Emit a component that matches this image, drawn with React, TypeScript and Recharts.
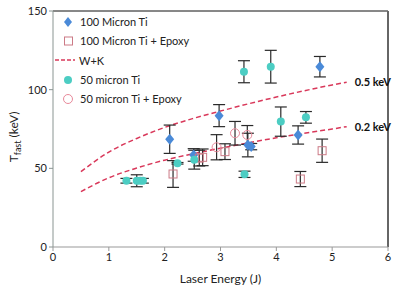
import React from 'react'
import {
  ComposedChart, XAxis, YAxis, Scatter, Line, ErrorBar, ReferenceLine,
  ReferenceDot, Label,
} from 'recharts'

// points: [energy J, T_fast keV, error keV]
const ti100 = [
  { x: 2.09, y: 68.5, err: 9 },
  { x: 2.52, y: 58.5, err: 4 },
  { x: 2.975, y: 83.5, err: 7 },
  { x: 3.49, y: 64.8, err: 7.5 },
  { x: 3.55, y: 63.8, err: 2 },
  { x: 4.39, y: 71.2, err: 5.8 },
  { x: 4.78, y: 114.6, err: 6.5 },
]

const ti100Epoxy = [
  { x: 2.15, y: 46.4, err: 8.5 },
  { x: 2.62, y: 56.5, err: 5 },
  { x: 2.68, y: 57, err: 5.3 },
  { x: 3.08, y: 60.6, err: 5 },
  { x: 4.43, y: 43.2, err: 4.8 },
  { x: 4.82, y: 61.2, err: 7.4 },
]

const ti50 = [
  { x: 1.315, y: 42.1, err: 1.5 },
  { x: 1.5, y: 42.1, err: 3.8 },
  { x: 1.56, y: 42.1, err: 1 },
  { x: 1.61, y: 42.1, err: 1.5 },
  { x: 2.23, y: 53.2, err: 0.5 },
  { x: 2.53, y: 55.5, err: 6 },
  { x: 3.42, y: 111.4, err: 7 },
  { x: 3.43, y: 46.2, err: 2 },
  { x: 3.9, y: 114.6, err: 10.4 },
  { x: 4.08, y: 79.7, err: 9.3 },
  { x: 4.53, y: 82.4, err: 3.7 },
]

const ti50Epoxy = [
  { x: 2.93, y: 63.4, err: 8 },
  { x: 3.26, y: 72.3, err: 7.5 },
  { x: 3.48, y: 71.2, err: 6 },
]

// W+K scaling curves
const wk05 = [
  { x: 0.5, y: 47.9 }, { x: 1, y: 60.3 }, { x: 1.5, y: 69 }, { x: 2, y: 76 },
  { x: 2.5, y: 81.6 }, { x: 3, y: 86.4 }, { x: 3.5, y: 91 }, { x: 4, y: 95.3 },
  { x: 4.5, y: 99.3 }, { x: 5, y: 103 }, { x: 5.26, y: 104.7 },
]
const wk02 = [
  { x: 0.5, y: 35.2 }, { x: 1, y: 44 }, { x: 1.5, y: 50.2 }, { x: 2, y: 55.2 },
  { x: 2.5, y: 59.2 }, { x: 3, y: 62.8 }, { x: 3.5, y: 66.2 }, { x: 4, y: 69.4 },
  { x: 4.5, y: 72.3 }, { x: 5, y: 75 }, { x: 5.26, y: 76.5 },
]

const xTicks = [0, 1, 2, 3, 4, 5, 6]
const yTicks = [0, 50, 100, 150]

const BLUE = '#4a8ad8'
const CYAN = '#4ccdc3'
const SQUARE = '#cc7a86'
const RING = '#e8899a'
const CURVE = '#d9385a'
const FONT = 'Lato, "Open Sans", sans-serif'

const Diamond = (p: any) => (
  <path d={`M${p.cx},${p.cy - 5.5}L${p.cx + 4.5},${p.cy}L${p.cx},${p.cy + 5.5}L${p.cx - 4.5},${p.cy}Z`} fill={BLUE} />
)
const Square = (p: any) => (
  <rect x={p.cx - 4} y={p.cy - 4} width={8} height={8} fill="none" stroke={SQUARE} strokeWidth={1} />
)
const Dot = (p: any) => <circle cx={p.cx} cy={p.cy} r={4} fill={CYAN} />
const Ring = (p: any) => <circle cx={p.cx} cy={p.cy} r={4.5} fill="none" stroke={RING} strokeWidth={1} />

const legendItems = [
  { name: '100 Micron Ti', icon: <path d="M5,1L9,6L5,11L1,6Z" fill={BLUE} /> },
  { name: '100 Micron Ti + Epoxy', icon: <rect x={1.5} y={2} width={8} height={8} fill="none" stroke={SQUARE} /> },
  { name: 'W+K', icon: <line x1={-8} y1={6} x2={12} y2={6} stroke={CURVE} strokeWidth={1.5} strokeDasharray="4 2" /> },
  { name: '50 micron Ti', icon: <circle cx={5} cy={6} r={4} fill={CYAN} /> },
  { name: '50 micron Ti + Epoxy', icon: <circle cx={5} cy={6} r={4.5} fill="none" stroke={RING} /> },
]

function LegendBox() {
  return (
    <div style={{ position: 'absolute', left: 63, top: 12, fontFamily: FONT, fontSize: 11, color: '#222' }}>
      {legendItems.map((it) => (
        <div key={it.name} style={{ display: 'flex', alignItems: 'center', height: 19.3, whiteSpace: 'nowrap' }}>
          <svg width={12} height={12} style={{ overflow: 'visible', marginRight: 5 }}>{it.icon}</svg>
          <span style={{ marginLeft: it.name === 'W+K' ? -1 : 0 }}>{it.name}</span>
        </div>
      ))}
    </div>
  )
}

export default function App() {
  return (
    <div style={{ position: 'absolute', left: 0, top: 0, width: 409, height: 292, background: '#fff' }}>
      <ComposedChart width={409} height={292} margin={{ top: 11, right: 21, bottom: 0, left: 0 }}>
        <XAxis
          type="number" dataKey="x" domain={[0, 6]} ticks={xTicks} allowDataOverflow
          height={45} stroke="#999" tickSize={4}
          tick={{ fill: '#222', fontSize: 11, fontFamily: FONT }}
        >
          <Label value="Laser Energy (J)" position="insideBottom" offset={9}
            style={{ fill: '#222', fontSize: 12, fontFamily: FONT }} />
        </XAxis>
        <YAxis
          type="number" dataKey="y" domain={[0, 150]} ticks={yTicks} allowDataOverflow
          width={53} stroke="#8a9592" tickSize={4}
          tick={{ fill: '#222', fontSize: 11, fontFamily: FONT }}
        >
          <Label content={() => (
            <text transform="translate(18,137) rotate(-90)" textAnchor="middle"
              style={{ fill: '#222', fontSize: 12, fontFamily: FONT }}>
              T<tspan fontSize={9} dy={3}>fast</tspan><tspan dy={-3}> (keV)</tspan>
            </text>
          )} />
        </YAxis>
        <ReferenceLine y={150} stroke="#111" strokeWidth={1} />
        <ReferenceLine x={6} stroke="#666" strokeWidth={2} />
        <Line data={wk05} dataKey="y" type="monotone" stroke={CURVE} strokeWidth={1.5}
          strokeDasharray="5 3" dot={false} isAnimationActive={false} legendType="none" />
        <Line data={wk02} dataKey="y" type="monotone" stroke={CURVE} strokeWidth={1.5}
          strokeDasharray="5 3" dot={false} isAnimationActive={false} legendType="none" />
        <ReferenceDot x={5.26} y={104.7} r={0} fill="none" stroke="none"
          label={{ value: '0.5 keV', position: 'right', offset: 8, fill: '#111', fontSize: 11, fontWeight: 700, fontFamily: FONT }} />
        <ReferenceDot x={5.26} y={76.5} r={0} fill="none" stroke="none"
          label={{ value: '0.2 keV', position: 'right', offset: 8, fill: '#111', fontSize: 11, fontWeight: 700, fontFamily: FONT }} />
        <Scatter data={ti100} dataKey="y" shape={Diamond} isAnimationActive={false}>
          <ErrorBar dataKey="err" direction="y" width={6} stroke="#2a2a2a" strokeWidth={1.2} />
        </Scatter>
        <Scatter data={ti100Epoxy} dataKey="y" shape={Square} isAnimationActive={false}>
          <ErrorBar dataKey="err" direction="y" width={6} stroke="#2a2a2a" strokeWidth={1.2} />
        </Scatter>
        <Scatter data={ti50} dataKey="y" shape={Dot} isAnimationActive={false}>
          <ErrorBar dataKey="err" direction="y" width={6} stroke="#2a2a2a" strokeWidth={1.2} />
        </Scatter>
        <Scatter data={ti50Epoxy} dataKey="y" shape={Ring} isAnimationActive={false}>
          <ErrorBar dataKey="err" direction="y" width={6} stroke="#2a2a2a" strokeWidth={1.2} />
        </Scatter>
      </ComposedChart>
      <LegendBox />
    </div>
  )
}
